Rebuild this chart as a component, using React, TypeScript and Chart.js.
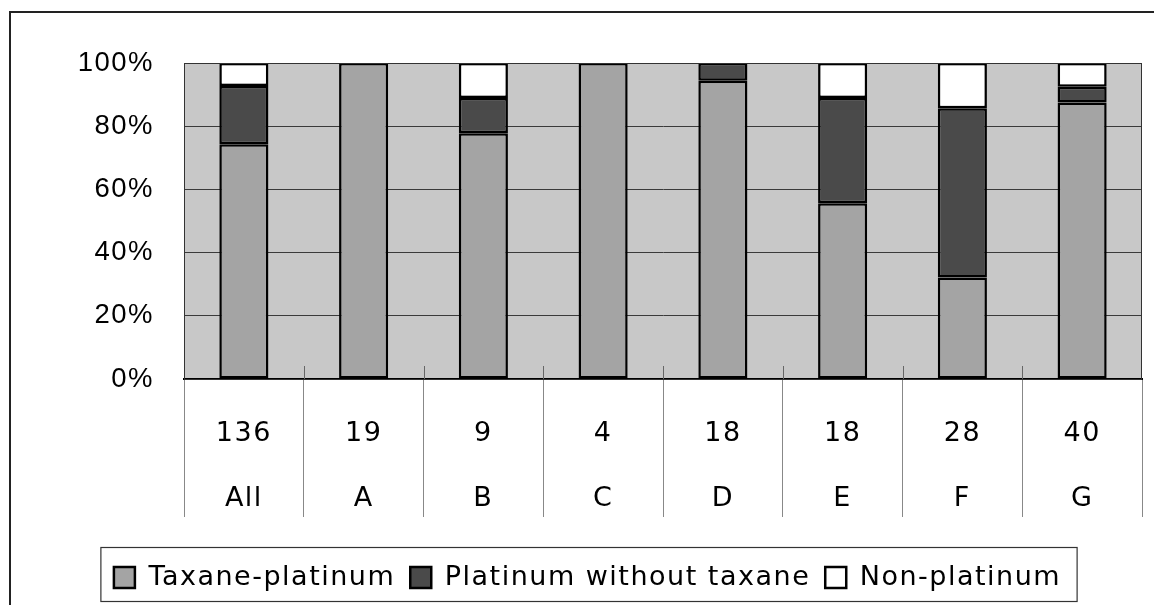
import React, { useEffect, useRef } from 'react';
import { Chart, registerables } from 'chart.js';

Chart.register(...registerables);

// ---- data ----
const categories = ['All', 'A', 'B', 'C', 'D', 'E', 'F', 'G'];
const patientCounts = ['136', '19', '9', '4', '18', '18', '28', '40'];
const seriesNames = ['Taxane-platinum', 'Platinum without taxane', 'Non-platinum'];
const taxanePlatinum = [74.3, 100, 77.8, 100, 94.4, 55.6, 32.1, 87.5];
const platinumWithoutTaxane = [18.4, 0, 11.1, 0, 5.6, 33.3, 53.6, 5.0];
const nonPlatinum = [7.3, 0, 11.1, 0, 0, 11.1, 14.3, 7.5];
const yTickValues = [0, 20, 40, 60, 80, 100];

const LETTER_SPACING = '1.5px';

const decorPlugin = {
  id: 'decor',
  beforeUpdate(chart: any) {
    chart.ctx.letterSpacing = LETTER_SPACING;
  },
  beforeDraw(chart: any) {
    const { ctx, chartArea } = chart;
    ctx.letterSpacing = LETTER_SPACING;
    const { left, top, right, bottom } = chartArea;
    ctx.save();
    ctx.fillStyle = '#c8c8c8';
    ctx.fillRect(left, top, right - left, bottom - top);
    ctx.restore();
  },
  afterDraw(chart: any) {
    const { ctx, chartArea } = chart;
    const { left, top, right, bottom } = chartArea;
    ctx.save();
    // plot frame
    ctx.strokeStyle = '#333';
    ctx.lineWidth = 1;
    ctx.strokeRect(left + 0.5, top + 0.5, right - left - 1, bottom - top);
    // small tick marks inside plot at category boundaries
    const xs = chart.scales.x;
    ctx.strokeStyle = '#666';
    for (let i = 1; i < categories.length; i++) {
      const x = Math.round((xs.getPixelForValue(i - 1) + xs.getPixelForValue(i)) / 2) + 0.5;
      ctx.beginPath();
      ctx.moveTo(x, bottom - 13);
      ctx.lineTo(x, bottom);
      ctx.stroke();
    }
    // legend border
    const lg = chart.legend;
    if (lg && lg.lineWidths) {
      const pad = lg.options.labels.padding;
      const lw = lg.lineWidths[0];
      const x0 = (lg.left + pad + lg.right - lw) / 2;
      const x1 = x0 + lw - pad;
      const cy = lg.top + pad + 13.5;
      ctx.strokeStyle = '#333';
      ctx.lineWidth = 1.2;
      ctx.strokeRect(x0 - 13, cy - 30, x1 - x0 + 29, 54);
    }
    // outer frame
    ctx.lineWidth = 2;
    ctx.strokeStyle = '#222';
    ctx.strokeRect(10, 12, chart.width + 20, chart.height + 20);
    ctx.restore();
  },
};

export default function App() {
  const ref = useRef<HTMLCanvasElement | null>(null);

  useEffect(() => {
    if (!ref.current) return;
    const labels = categories.map((c, i) => [patientCounts[i], c]);
    const common = { borderColor: '#000', borderWidth: 2.5, borderSkipped: false as const };
    const chart = new Chart(ref.current, {
      type: 'bar',
      data: {
        labels,
        datasets: [
          { label: seriesNames[0], data: taxanePlatinum, backgroundColor: '#a4a4a4', ...common },
          { label: seriesNames[1], data: platinumWithoutTaxane, backgroundColor: '#4a4a4a', ...common },
          { label: seriesNames[2], data: nonPlatinum, backgroundColor: '#ffffff', ...common },
        ],
      },
      options: {
        responsive: false,
        animation: false,
        layout: { padding: { top: 63, left: 33, right: 12, bottom: 4 } },
        datasets: { bar: { barPercentage: 0.41, categoryPercentage: 1 } },
        plugins: {
          legend: {
            position: 'bottom',
            labels: {
              boxWidth: 21,
              boxHeight: 21,
              padding: 15,
              color: '#000',
              font: { family: 'DejaVu Sans', size: 27 },
            },
          },
          tooltip: { enabled: false },
          title: { display: false },
        },
        scales: {
          x: {
            stacked: true,
            grid: {
              offset: true,
              drawOnChartArea: false,
              drawTicks: true,
              tickLength: 138,
              color: '#888',
              lineWidth: 1,
            },
            border: { display: true, color: '#000', width: 2 },
            ticks: {
              color: '#000',
              padding: -116,
              autoSkip: false,
              maxRotation: 0,
              font: { family: 'DejaVu Sans', size: 27, lineHeight: 65 / 27 },
            },
            afterFit: (s: any) => {
              s.height = 170;
            },
          },
          y: {
            stacked: true,
            min: 0,
            max: 100,
            afterBuildTicks: (s: any) => {
              s.ticks = yTickValues.map((v) => ({ value: v }));
            },
            ticks: {
              color: '#000',
              padding: 30,
              callback: (v: any) => v + '%',
              font: { family: 'Liberation Sans', size: 27.5 },
            },
            grid: { color: '#3a3a3a', lineWidth: 1, drawTicks: false },
            border: { display: true, color: '#333', width: 1 },
            afterFit: (s: any) => {
              s.width = 151;
            },
          },
        },
      } as any,
      plugins: [decorPlugin as any],
    });
    return () => chart.destroy();
  }, []);

  return (
    <div style={{ position: 'absolute', left: 0, top: 0, width: 1154, height: 605, background: '#fff' }}>
      <canvas ref={ref} width={1154} height={605} style={{ display: 'block' }} />
    </div>
  );
}
